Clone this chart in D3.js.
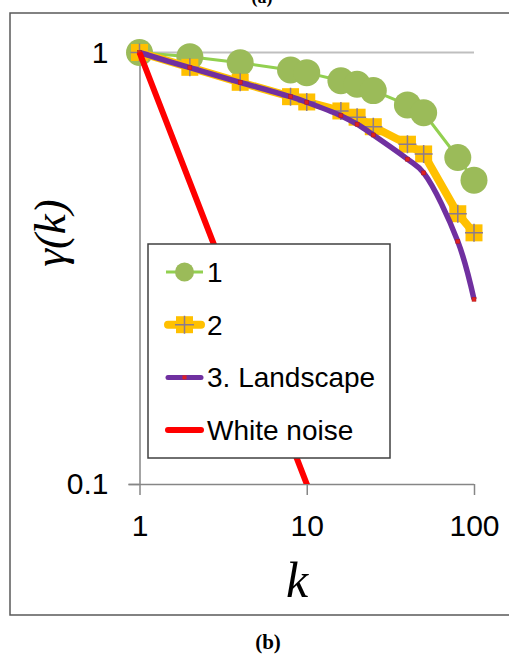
<!DOCTYPE html>
<html>
<head>
<meta charset="utf-8">
<script src="https://cdn.jsdelivr.net/npm/d3@7"></script>
<style>
  html, body { margin: 0; padding: 0; background: #fff; }
  svg { display: block; }
</style>
</head>
<body>
<svg id="chart" width="509" height="655"></svg>
<script>
// lag values k and autocorrelation gamma(k) for each series
const lags = [1, 2, 4, 8, 10, 16, 20, 25, 40, 50, 80, 100];
const series1 = [1, 0.978, 0.947, 0.911, 0.898, 0.86, 0.844, 0.816, 0.756, 0.725, 0.571, 0.506];
const series2 = [1, 0.924, 0.853, 0.79, 0.768, 0.732, 0.708, 0.673, 0.613, 0.582, 0.423, 0.382];
const landscape = [1, 0.922, 0.853, 0.79, 0.767, 0.714, 0.682, 0.644, 0.566, 0.526, 0.365, 0.268];
const whiteNoiseLags = [1, 2, 4, 8, 10, 16, 20];
const whiteNoise = [1, 0.5, 0.25, 0.125, 0.1, 0.0625, 0.05];
const xTicks = [1, 10, 100];
const yTicks = [0.1, 1];
const legendLabels = ["1", "2", "3. Landscape", "White noise"];

const svg = d3.select("#chart");

// outer frame (right side runs off the page)
svg.append("rect")
    .attr("x", 10).attr("y", 13)
    .attr("width", 520).attr("height", 602)
    .attr("fill", "none")
    .attr("stroke", "#595959")
    .attr("stroke-width", 1.5);

// caption of the panel above, cut off by the page edge
svg.append("text")
    .attr("x", 262).attr("y", 3)
    .attr("text-anchor", "middle")
    .attr("font-family", "Liberation Serif")
    .attr("font-weight", "bold")
    .attr("font-size", 18)
    .text("(a)");

const x = d3.scaleLog().domain([1, 100]).range([139.5, 474]);
const y = d3.scaleLog().domain([0.1, 1]).range([484, 52.5]);

// gridline at 1
svg.append("line")
    .attr("x1", x(1)).attr("x2", x(100))
    .attr("y1", y(1)).attr("y2", y(1))
    .attr("stroke", "#bfbfbf").attr("stroke-width", 2);

// axes
const xAxis = svg.append("g")
    .attr("transform", `translate(0,${y(0.1)})`)
    .call(d3.axisBottom(x).tickValues(xTicks).tickFormat(d3.format("d")).tickSize(11).tickSizeOuter(0).tickPadding(14));
const yAxis = svg.append("g")
    .attr("transform", `translate(${x(1)},0)`)
    .call(d3.axisLeft(y).tickValues(yTicks).tickFormat(d => d === 1 ? "1" : "0.1").tickSize(11).tickSizeOuter(0).tickPadding(20));

[xAxis, yAxis].forEach(ax => {
    ax.select(".domain").attr("stroke", "#868686").attr("stroke-width", 1.5);
    ax.selectAll(".tick line").attr("stroke", "#868686").attr("stroke-width", 1.5);
    ax.selectAll(".tick text")
        .attr("font-family", "Liberation Sans, Arial, sans-serif")
        .attr("font-size", 30)
        .attr("fill", "#000");
});
xAxis.selectAll(".tick text").attr("dy", "0.9em");
xAxis.select(".domain").attr("d", `M${x(1) - 11},0.5H${x(100)}`);

// axis titles
svg.append("text")
    .attr("x", 297).attr("y", 597)
    .attr("text-anchor", "middle")
    .attr("font-family", "Liberation Serif, serif")
    .attr("font-style", "italic")
    .attr("font-size", 50)
    .text("k");

svg.append("text")
    .attr("transform", "translate(65,233) rotate(-90)")
    .attr("text-anchor", "middle")
    .attr("font-family", "Liberation Serif, serif")
    .attr("font-style", "italic")
    .attr("font-size", 45)
    .text("γ(k)");

// caption
svg.append("text")
    .attr("x", 268).attr("y", 649)
    .attr("text-anchor", "middle")
    .attr("font-family", "Liberation Serif, serif")
    .attr("font-weight", "bold")
    .attr("font-size", 21)
    .text("(b)");

const plot = svg.append("g");
svg.append("clipPath").attr("id", "clip")
    .append("rect").attr("x", 120).attr("y", 30).attr("width", 380).attr("height", y(0.1) - 30);

const pts = (ks, vs) => ks.map((k, i) => ({ k, v: vs[i] }));
const line = d3.line().x(d => x(d.k)).y(d => y(d.v));

// series 1
const d1 = pts(lags, series1);
plot.append("path").datum(d1)
    .attr("d", line).attr("fill", "none")
    .attr("stroke", "#92d050").attr("stroke-width", 3);
plot.append("g").selectAll("circle").data(d1).join("circle")
    .attr("cx", d => x(d.k)).attr("cy", d => y(d.v))
    .attr("r", 13.5).attr("fill", "#9bbb59");

// series 2
const d2 = pts(lags, series2);
plot.append("path").datum(d2)
    .attr("d", line).attr("fill", "none")
    .attr("stroke", "#ffc000").attr("stroke-width", 8)
    .attr("stroke-linejoin", "round");
const sq = plot.append("g").selectAll("g").data(d2).join("g")
    .attr("transform", d => `translate(${x(d.k)},${y(d.v)})`);
sq.append("rect").attr("x", -8.5).attr("y", -8.5).attr("width", 17).attr("height", 17).attr("fill", "#ffc000");
sq.append("path").attr("d", "M-9,0H9M0,-9V9").attr("stroke", "#8a7a8e").attr("stroke-width", 1.5);

// landscape (smoothed line)
const d3s = pts(lags, landscape);
plot.append("path").datum(d3s)
    .attr("d", d3.line().x(d => x(d.k)).y(d => y(d.v)).curve(d3.curveCatmullRom.alpha(0.5)))
    .attr("fill", "none")
    .attr("stroke", "#7030a0").attr("stroke-width", 5.5);
plot.append("g").selectAll("rect").data(d3s).join("rect")
    .attr("x", d => x(d.k) - 2).attr("y", d => y(d.v) - 2)
    .attr("width", 4).attr("height", 4)
    .attr("fill", "#e02020").attr("stroke", "#b01818").attr("stroke-width", 0.5);

// white noise
plot.append("path").datum(pts(whiteNoiseLags, whiteNoise))
    .attr("clip-path", "url(#clip)")
    .attr("d", line).attr("fill", "none")
    .attr("stroke", "#ff0000").attr("stroke-width", 6);

// legend
const lg = svg.append("g");
lg.append("rect")
    .attr("x", 148).attr("y", 244).attr("width", 242).attr("height", 214)
    .attr("fill", "#fff").attr("stroke", "#404040").attr("stroke-width", 1.5);
const rows = lg.selectAll("g.row").data(legendLabels).join("g")
    .attr("class", "row")
    .attr("transform", (d, i) => `translate(0,${272 + i * 52.7})`);
rows.append("text")
    .attr("x", 207).attr("y", 10)
    .attr("font-family", "Liberation Sans, Arial, sans-serif")
    .attr("font-size", 28)
    .text(d => d);

const r0 = d3.select(rows.nodes()[0]);
r0.append("line").attr("x1", 166).attr("x2", 203).attr("stroke", "#92d050").attr("stroke-width", 3);
r0.append("circle").attr("cx", 184.5).attr("r", 9.5).attr("fill", "#9bbb59");

const r1 = d3.select(rows.nodes()[1]);
r1.append("line").attr("x1", 168).attr("x2", 201).attr("stroke", "#ffc000").attr("stroke-width", 8).attr("stroke-linecap", "round");
r1.append("rect").attr("x", 176).attr("y", -8.5).attr("width", 17).attr("height", 17).attr("fill", "#ffc000");
r1.append("path").attr("d", "M175,0H194M184.5,-9V9").attr("stroke", "#8a7a8e").attr("stroke-width", 1.5);

const r2 = d3.select(rows.nodes()[2]);
r2.append("line").attr("x1", 168).attr("x2", 201).attr("stroke", "#7030a0").attr("stroke-width", 5).attr("stroke-linecap", "round");
r2.append("rect").attr("x", 182.5).attr("y", -2).attr("width", 4).attr("height", 4).attr("fill", "#e02020");

const r3 = d3.select(rows.nodes()[3]);
r3.append("line").attr("x1", 168).attr("x2", 201).attr("stroke", "#ff0000").attr("stroke-width", 6).attr("stroke-linecap", "round");
</script>
</body>
</html>
